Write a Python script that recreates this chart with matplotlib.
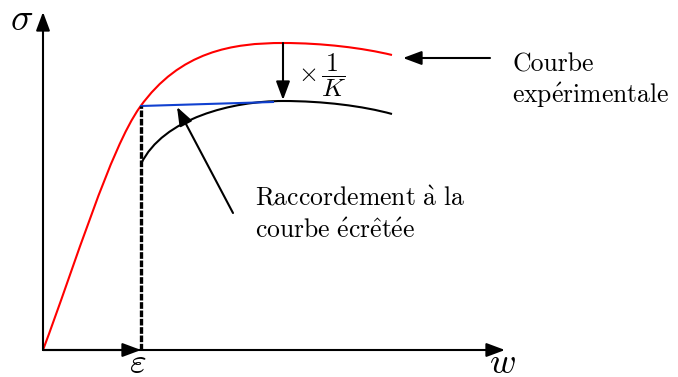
import matplotlib
matplotlib.use("Agg")
import matplotlib.pyplot as plt
from matplotlib.path import Path
from matplotlib.patches import PathPatch

plt.rcParams['mathtext.fontset'] = 'cm'
plt.rcParams['font.family'] = ['cmr10', 'DejaVu Serif']
plt.rcParams['axes.unicode_minus'] = False

# Coordinates: x = strain-like (w), y = stress-like (sigma), origin at axes corner
# Curves given as cubic Bezier nodes (start, ctrl, ctrl, end, ctrl, ctrl, end, ...)
red_x = [0, 32, 67, 97, 137, 190, 240, 280, 320, 349]
red_y = [0, 85, 201, 243, 299, 307, 307, 307, 302, 295]

black_x = [98, 120, 190, 240, 280, 320, 349]
black_y = [186, 232, 249, 249, 249, 244, 236]

blue_x = [98, 230]
blue_y = [244, 248]

eps_x = 98
eps_y = 244
x_axis_end = 462
y_axis_end = 338

label_courbe = ['Courbe', r'$\mathrm{exp\acute{e}rimentale}$']
label_raccord = [r'$\mathrm{Raccordement\ \grave{a}\ la}$', r'$\mathrm{courbe\ \acute{e}cr\hat{e}t\acute{e}e}$']


def bezier_patch(xs, ys, color):
    verts = list(zip(xs, ys))
    codes = [Path.MOVETO] + [Path.CURVE4] * (len(verts) - 1)
    return PathPatch(Path(verts, codes), facecolor='none', edgecolor=color, lw=1.5)


fig = plt.figure(figsize=(6.78, 3.77), dpi=100)
ax = fig.add_axes([0, 0, 1, 1])
ax.set_xlim(-43, 635)
ax.set_ylim(-27, 350)
ax.axis('off')

arrow_kw = dict(arrowstyle='-|>,head_length=0.75,head_width=0.28', color='black', lw=1.5,
                shrinkA=0, shrinkB=0, mutation_scale=15)

# axes
ax.annotate('', xy=(0, y_axis_end), xytext=(0, 0), arrowprops=arrow_kw)
ax.annotate('', xy=(x_axis_end, 0), xytext=(0, 0), arrowprops=arrow_kw)
ax.annotate('', xy=(eps_x, 0), xytext=(0, 0), arrowprops=arrow_kw)

# curves
ax.add_patch(bezier_patch(red_x, red_y, 'red'))
ax.add_patch(bezier_patch(black_x, black_y, 'black'))
ax.plot(blue_x, blue_y, color='#1040d0', lw=1.5)

# dashed vertical
ax.plot([eps_x, eps_x], [0, eps_y], color='black', lw=2.4, ls=(0, (2.0, 0.5)))

# arrows
ax.annotate('', xy=(240, 250), xytext=(240, 307), arrowprops=arrow_kw)
ax.annotate('', xy=(360, 292), xytext=(447, 292), arrowprops=arrow_kw)
ax.annotate('', xy=(134, 243), xytext=(190, 137), arrowprops=arrow_kw)

# labels
ax.text(-21, 330, r'$\sigma$', fontsize=27, ha='center', va='center')
ax.text(95, -23, r'$\varepsilon$', fontsize=26, ha='center', va='baseline')
ax.text(459, -23, r'$w$', fontsize=26, ha='center', va='baseline')
ax.text(255, 275, r'$\times\,\dfrac{1}{K}$', fontsize=18.5, ha='left', va='center')

fs = 18.5
ax.text(469, 278, label_courbe[0], fontsize=fs, ha='left', va='baseline')
ax.text(469, 247, label_courbe[1], fontsize=fs, ha='left', va='baseline')
ax.text(212, 145, label_raccord[0], fontsize=fs, ha='left', va='baseline')
ax.text(212, 112, label_raccord[1], fontsize=fs, ha='left', va='baseline')

fig.savefig('out.png', dpi=100)
